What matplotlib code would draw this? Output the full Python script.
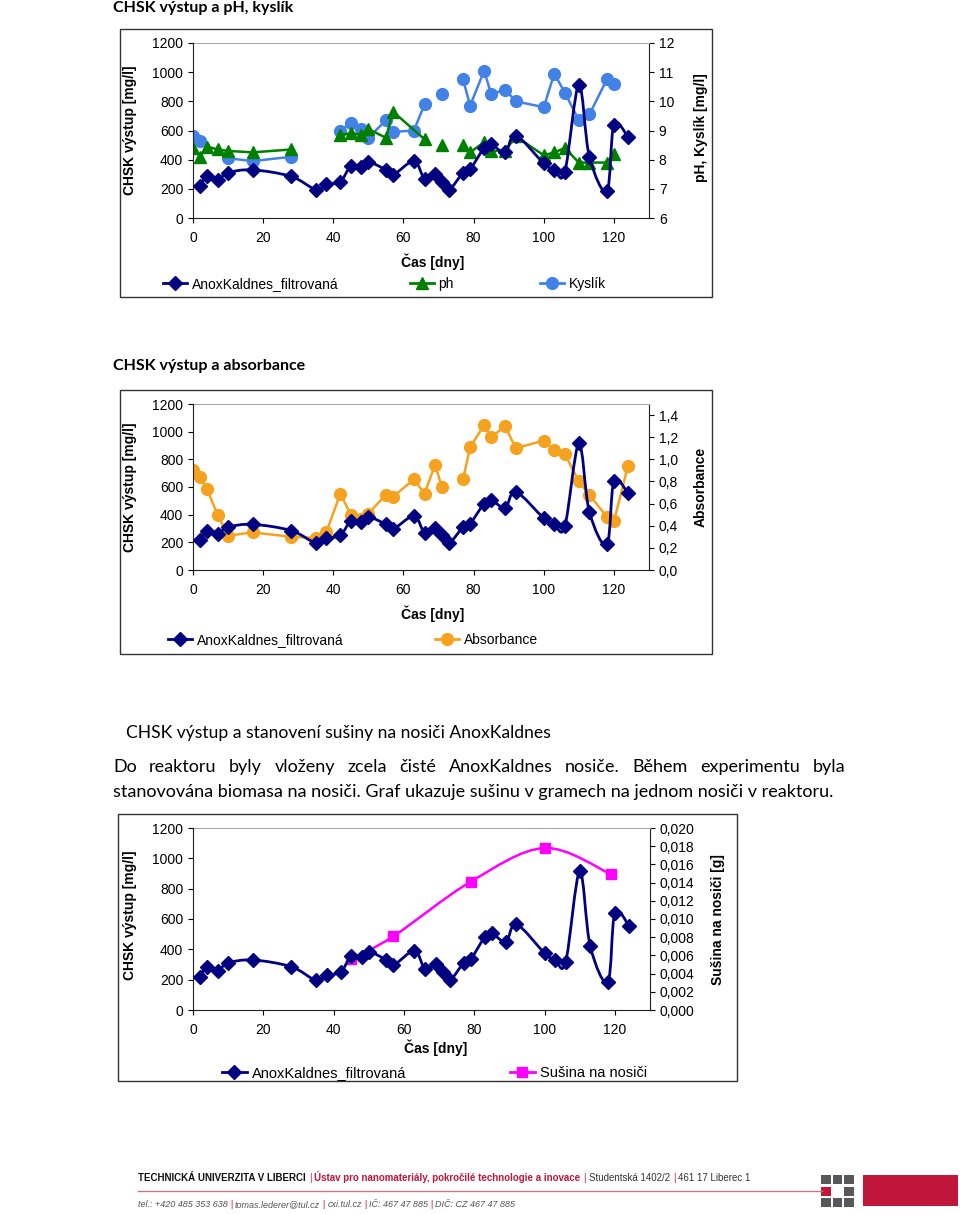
import numpy as np
import matplotlib
matplotlib.use('Agg')
import matplotlib.pyplot as plt
from matplotlib.path import Path
from matplotlib.patches import PathPatch, Rectangle
from matplotlib.lines import Line2D
from matplotlib.ticker import FuncFormatter
from matplotlib import font_manager

# --- data (None = empty cell -> gap in the line) ---
days_chsk = [2, 4, 7, 10, 17, 28, 35, 38, 42, 45, 48, 50, 55, 57, 63, 66, 69, 71, 73,
             77, 79, 83, 85, 89, 92, 100, 103, 106, 110, 113, 118, 120, 124]
chsk = [220, 285, 260, 310, 330, 285, 195, 230, 250, 355, 350, 385, 330, 295, 390, 270,
        305, 250, 195, 310, 335, 480, 505, 450, 565, 375, 330, 315, 915, 420, 185, 640, 555]

days_ph = [0, 2, 4, 7, 10, 17, 28, None, 42, 45, 48, 50, 55, 57, 66, None, 71, None,
           77, 79, 83, 85, 89, 92, 100, 103, 106, 110, 113, 118, 120]
ph = [8.4, 8.1, 8.45, 8.35, 8.3, 8.25, 8.35, None, 8.85, 8.9, 8.85, 9.05, 8.75, 9.65, 8.7,
      None, 8.5, None, 8.5, 8.25, 8.6, 8.3, 8.3, 8.8, 8.15, 8.25, 8.4, 7.9, 7.9, 7.9, 8.2]

days_o2 = [0, 2, None, 10, 17, 28, None, 42, 45, 48, 50, 55, 57, 63, 66, None, 71, None,
           77, 79, 83, 85, 89, 92, 100, 103, 106, 110, 113, 118, 120]
o2 = [8.8, 8.65, None, 8.05, 7.95, 8.1, None, 9.0, 9.25, 9.05, 8.75, 9.35, 8.95, 9.0, 9.9,
      None, 10.25, None, 10.75, 9.85, 11.05, 10.25, 10.4, 10.0, 9.8, 10.95, 10.3, 9.35,
      9.55, 10.75, 10.6]

days_abs = [0, 2, 4, 7, 10, 17, 28, 35, 38, 42, 45, 48, 50, 55, 57, 63, 66, 69, 71, None,
            77, 79, 83, 85, 89, 92, 100, 103, 106, 110, 113, 118, 120, 124]
absorb = [0.90, 0.84, 0.73, 0.50, 0.31, 0.34, 0.30, 0.29, 0.34, 0.69, 0.50, 0.46, 0.51,
          0.68, 0.66, 0.82, 0.69, 0.95, 0.75, None, 0.82, 1.11, 1.31, 1.20, 1.30, 1.10,
          1.17, 1.08, 1.05, 0.80, 0.68, 0.48, 0.44, 0.94]

days_dry = [45, 57, 79, 100, 119]
dry = [0.0056, 0.0081, 0.0141, 0.0178, 0.0149]

lab_chsk = 'AnoxKaldnes_filtrovaná'
lab_ph = 'ph'
lab_o2 = 'Kyslík'
lab_abs = 'Absorbance'
lab_dry = 'Sušina na nosiči'

W, H = 960, 1214
NAVY, GREEN, SKY, ORANGE, MAGENTA = '#000080', '#008000', '#4282e6', '#f7a21e', '#ff00ff'

installed = {f.name for f in font_manager.fontManager.ttflist}
NARROW = 'Liberation Sans Narrow' if 'Liberation Sans Narrow' in installed else 'Liberation Sans'
plt.rcParams['font.family'] = ['Liberation Sans', 'DejaVu Sans']

fig = plt.figure(figsize=(W / 100, H / 100), dpi=100)


def fx(x):
    return x / W


def fy(y):
    return 1 - y / H


def ftext(x, y, s, **kw):
    return fig.text(fx(x), fy(y), s, **kw)


def comma(dec):
    return FuncFormatter(lambda v, p: f'{v:.{dec}f}'.replace('.', ','))


def smooth_path(xs, ys):
    # Excel style smoothed line: cubic Bezier through the points
    pts = np.column_stack([xs, ys]).astype(float)
    n = len(pts)
    verts, codes = [pts[0]], [Path.MOVETO]
    for i in range(n - 1):
        p0, p1 = pts[max(i - 1, 0)], pts[i]
        p2, p3 = pts[i + 1], pts[min(i + 2, n - 1)]
        verts += [p1 + (p2 - p0) / 6, p2 - (p3 - p1) / 6, p2]
        codes += [Path.CURVE4] * 3
    return Path(verts, codes)


def frame(x0, y0, x1, y1):
    fig.patches.append(Rectangle((fx(x0), fy(y1)), fx(x1 - x0), (y1 - y0) / H,
                                 transform=fig.transFigure, fill=False,
                                 edgecolor='#333333', lw=1))


def chart(x0, y0, x1, y1, fs=10):
    ax = fig.add_axes([fx(x0), fy(y1), fx(x1 - x0), (y1 - y0) / H])
    ax2 = ax.twinx()
    ax.set_xlim(0, 130)
    ax.set_xticks(range(0, 121, 20))
    ax.set_ylim(0, 1200)
    ax.set_yticks(range(0, 1201, 200))
    for s in ['top', 'right']:
        ax.spines[s].set_visible(False)
    for s in ['left', 'bottom']:
        ax2.spines[s].set_visible(False)
    ax2.spines['top'].set_color('#a8a8a8')
    for s in ['left', 'bottom']:
        ax.spines[s].set_color('#222222')
    ax2.spines['right'].set_color('#222222')
    ax.tick_params(axis='y', direction='out', length=3.6, width=0.8, labelsize=fs, pad=3.5)
    ax.tick_params(axis='x', direction='out', length=3.6, width=0.8, labelsize=fs, pad=6)
    ax2.tick_params(axis='y', direction='out', length=3.6, width=0.8, labelsize=fs, pad=3.5)
    ax.set_zorder(ax2.get_zorder() + 1)
    ax.patch.set_visible(False)
    return ax, ax2


def draw_chsk(ax):
    ax.add_patch(PathPatch(smooth_path(days_chsk, chsk), fill=False, edgecolor=NAVY,
                           lw=2.0, zorder=3))
    ax.plot(days_chsk, chsk, ls='none', marker='D', ms=6.8, color=NAVY, zorder=4)


def legend_item(x, y, color, marker, ms, label, fs=10):
    h = Line2D([], [], color=color, lw=2, marker=marker, ms=ms)
    fig.legend([h], [label], loc='center left', bbox_to_anchor=(fx(x), fy(y)),
               frameon=False, borderpad=0, borderaxespad=0, handlelength=1.7,
               handletextpad=0.35, fontsize=fs)


head = dict(family=['Lato', 'DejaVu Sans'], va='center', ha='left')
axlab = dict(fontsize=10, fontweight='bold', ha='center', va='center')

# ---------------- chart 1: CHSK, pH, kyslik ----------------
ftext(113, 8, 'CHSK výstup a pH, kyslík', fontsize=11.5, fontweight='bold', **head)
frame(120, 29, 712, 297)
ax, ax2 = chart(193, 43, 649, 218)
ax2.set_ylim(6, 12)
ax2.set_yticks(range(6, 13))
draw_chsk(ax)
ax2.plot(days_ph, ph, color=GREEN, lw=1.8, marker='^', ms=8.5, zorder=3)
ax2.plot(days_o2, o2, color=SKY, lw=1.8, marker='o', ms=8.5, zorder=2)
ftext(130, 130, 'CHSK výstup [mg/l]', rotation=90, **axlab)
ftext(701, 128, 'pH, Kyslík [mg/l]', rotation=90, **axlab)
ftext(433, 262, 'Čas [dny]', **axlab)
legend_item(163, 284, NAVY, 'D', 6.8, lab_chsk)
legend_item(410, 284, GREEN, '^', 8.5, lab_ph)
legend_item(540, 284, SKY, 'o', 8.5, lab_o2)

# ---------------- chart 2: CHSK a absorbance ----------------
ftext(113, 366, 'CHSK výstup a absorbance', fontsize=11.5, fontweight='bold', **head)
frame(120, 390, 712, 654)
ax, ax2 = chart(193, 404, 649, 570)
ax2.set_ylim(0, 1.5)
ax2.set_yticks(np.arange(0, 1.41, 0.2))
ax2.yaxis.set_major_formatter(comma(1))
draw_chsk(ax)
ax2.plot(days_abs, absorb, color=ORANGE, lw=1.8, marker='o', ms=8.5, zorder=2)
ftext(130, 487, 'CHSK výstup [mg/l]', rotation=90, **axlab)
ftext(701, 487, 'Absorbance', rotation=90, **axlab)
ftext(433, 614, 'Čas [dny]', **axlab)
legend_item(168, 640, NAVY, 'D', 6.8, lab_chsk)
legend_item(435, 640, ORANGE, 'o', 8.5, lab_abs)

# ---------------- text ----------------
ftext(126, 733, 'CHSK výstup a stanovení sušiny na nosiči AnoxKaldnes', fontsize=12.6, **head)
para1 = 'Do reaktoru byly vloženy zcela čisté AnoxKaldnes nosiče. Během experimentu byla'
para2 = 'stanovována biomasa na nosiči. Graf ukazuje sušinu v gramech na jednom nosiči v reaktoru.'
words = [ftext(0, 767, w, fontsize=13, **head) for w in para1.split()]
ftext(113, 792, para2, fontsize=13, **head)
renderer = fig.canvas.get_renderer()
widths = [t.get_window_extent(renderer).width for t in words]
gap = (845 - 113 - sum(widths)) / (len(words) - 1)
xpos = 113
for t, wd in zip(words, widths):
    t.set_x(fx(xpos))
    xpos += wd + gap

# ---------------- chart 3: CHSK a susina ----------------
frame(118, 814, 737, 1081)
ax, ax2 = chart(193, 828, 650, 1010)
ax2.set_ylim(0, 0.02)
ax2.set_yticks(np.arange(0, 0.0201, 0.002))
ax2.yaxis.set_major_formatter(comma(3))
draw_chsk(ax)
ax2.add_patch(PathPatch(smooth_path(days_dry, dry), fill=False, edgecolor=MAGENTA,
                        lw=1.8, zorder=2))
ax2.plot(days_dry, dry, ls='none', marker='s', ms=7, color=MAGENTA, zorder=2)
ftext(130, 915, 'CHSK výstup [mg/l]', rotation=90, **axlab)
ftext(718, 920, 'Sušina na nosiči [g]', rotation=90, **axlab)
ftext(436, 1048, 'Čas [dny]', **axlab)
legend_item(222, 1073, NAVY, 'D', 6.8, lab_chsk, fs=10.5)
legend_item(510, 1073, MAGENTA, 's', 7, lab_dry, fs=10.5)

# ---------------- footer ----------------
RED = '#c0163a'


def text_run(x, y, pieces, gap=3):
    for s, kw in pieces:
        t = ftext(x, y, s, va='baseline', ha='left', family=[NARROW, 'DejaVu Sans'], **kw)
        x += t.get_window_extent(renderer).width + gap


text_run(138, 1181, [
    ('TECHNICKÁ UNIVERZITA V LIBERCI', dict(fontsize=7, fontweight='bold', color='#111111')),
    ('|', dict(fontsize=7, color=RED)),
    ('Ústav pro nanomateriály, pokročilé technologie a inovace',
     dict(fontsize=7, fontweight='bold', color=RED)),
    ('|', dict(fontsize=7, color=RED)),
    ('Studentská 1402/2', dict(fontsize=7, color='#333333')),
    ('|', dict(fontsize=7, color=RED)),
    ('461 17 Liberec 1', dict(fontsize=7, color='#333333')),
])
text_run(138, 1207, [
    ('tel.: +420 485 353 638', dict(fontsize=6.5, style='italic', color='#555555')),
    ('|', dict(fontsize=6.5, color=RED)),
    ('tomas.lederer@tul.cz', dict(fontsize=6.5, style='italic', color='#555555')),
    ('|', dict(fontsize=6.5, color=RED)),
    ('cxi.tul.cz', dict(fontsize=6.5, style='italic', color='#555555')),
    ('|', dict(fontsize=6.5, color=RED)),
    ('IČ: 467 47 885', dict(fontsize=6.5, style='italic', color='#555555')),
    ('|', dict(fontsize=6.5, color=RED)),
    ('DIČ: CZ 467 47 885', dict(fontsize=6.5, style='italic', color='#555555')),
], gap=2.5)
fig.lines.append(Line2D([fx(138), fx(822)], [fy(1191), fy(1191)], transform=fig.transFigure,
                        color='#c47886', lw=1))
for r in range(3):
    for c in range(3):
        if r == 1 and c == 1:
            continue
        col = RED if (r == 1 and c == 0) else '#58585a'
        x0, y0 = 821 + c * 11.5, 1175 + r * 11.5
        fig.patches.append(Rectangle((fx(x0), fy(y0 + 9)), fx(9.5), 9 / H,
                                     transform=fig.transFigure, color=col, lw=0))
fig.patches.append(Rectangle((fx(863), fy(1206)), fx(95), 31 / H,
                             transform=fig.transFigure, color=RED, lw=0))

fig.savefig('out.png', dpi=100)
